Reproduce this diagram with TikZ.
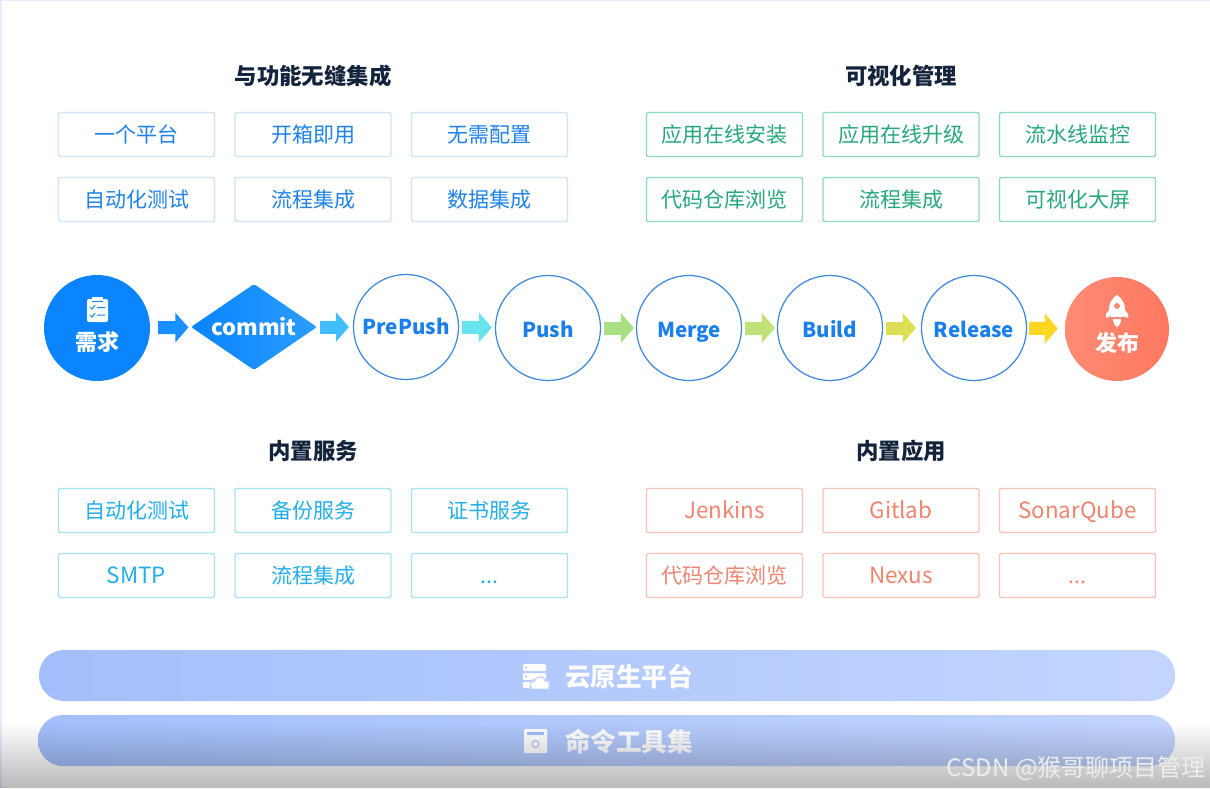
\documentclass[tikz,border=0pt]{standalone}
\usepackage{fontspec}
\setmainfont{Noto Sans CJK SC}
\usepackage{xcolor}
\usetikzlibrary{arrows.meta,positioning,shapes.geometric,fadings}

\definecolor{inkblue}{HTML}{1F82E8}
\definecolor{edgeblue}{HTML}{CFE4FA}
\definecolor{inkgreen}{HTML}{26A87A}
\definecolor{edgegreen}{HTML}{8FD8BC}
\definecolor{inkcyan}{HTML}{22ADEB}
\definecolor{edgecyan}{HTML}{A8E3F3}
\definecolor{inkcoral}{HTML}{EE8570}
\definecolor{edgecoral}{HTML}{F8C4B8}
\definecolor{stepblue}{HTML}{0A84FF}
\definecolor{stepright}{HTML}{2A9DFF}
\definecolor{ringblue}{HTML}{3A86DC}
\definecolor{stageink}{HTML}{1A7FEA}
\definecolor{headink}{HTML}{14233C}
\definecolor{barleft}{HTML}{A3BFFB}
\definecolor{barright}{HTML}{C3D5FF}
\definecolor{shipleft}{HTML}{FF8B75}
\definecolor{shipright}{HTML}{FF7860}
\definecolor{arone}{HTML}{1890FF}
\definecolor{artwo}{HTML}{40BEFF}
\definecolor{arthree}{HTML}{68E4EE}
\definecolor{arfour}{HTML}{A8E082}
\definecolor{arfive}{HTML}{BEE278}
\definecolor{arsix}{HTML}{DCDE55}
\definecolor{arseven}{HTML}{FFD723}

\begin{document}
\begin{tikzpicture}[
  x=1pt,y=-1pt,
  node distance=19.6pt and 19.1pt,
  box/.style={draw,line width=1.4pt,rounded corners=2pt,align=center,fill=white,
              minimum width=156pt,minimum height=44pt,inner sep=0pt,
              text height=18pt,text depth=3pt,
              font=\fontsize{21}{24}\selectfont},
  svc/.style={box,draw=edgeblue,text=inkblue},
  view/.style={box,draw=edgegreen,text=inkgreen},
  bult/.style={box,draw=edgecyan,text=inkcyan},
  app/.style={box,draw=edgecoral,text=inkcoral},
  wide/.style={font=\fontsize{22.4}{24}\selectfont},
  head/.style={text=headink,font=\fontsize{22.4}{24}\selectfont\bfseries,inner sep=0pt},
  stage/.style={circle,draw=ringblue,line width=1.2pt,fill=white,minimum size=105pt,inner sep=0pt,
                text height=18pt,text depth=0pt,
                text=stageink,font=\fontsize{20.5}{24}\selectfont\bfseries},
  ends/.style={circle,minimum size=106pt,inner sep=0pt},
  endlabel/.style={text=white,font=\fontsize{22}{24}\selectfont\bfseries,inner sep=0pt},
  bar/.style={rounded corners=25pt,minimum height=51pt,inner sep=0pt,
              left color=barleft,right color=barright},
  barlabel/.style={text=white,font=\fontsize{25.6}{28}\selectfont\bfseries,inner sep=0pt},
  ar/.style={line width=13pt,-{Triangle[length=13pt,width=29pt]},draw=#1}
]
\useasboundingbox (0,0) rectangle (1210,788);
\fill[white] (0,0) rectangle (1210,788);
\fill[blue!8] (0,0) rectangle (2,788);
\fill[blue!8] (0,0) rectangle (1210,1);

% top left
\node[head] (headfun) at (313,76) {与功能无缝集成};
\node[svc] (one) at (136.5,134.5) {一个平台};
\node[svc,right=of one] (open) {开箱即用};
\node[svc,right=of open] (noconf) {无需配置};
\node[svc,below=of one] (auto) {自动化测试};
\node[svc,right=of auto] (flow) {流程集成};
\node[svc,right=of flow] (data) {数据集成};

% top right
\node[head] (headview) at (901,76) {可视化管理};
\node[view] (install) at (724.5,134.5) {应用在线安装};
\node[view,right=of install] (upgrade) {应用在线升级};
\node[view,right=of upgrade] (monitor) {流水线监控};
\node[view,below=of install] (browse) {代码仓库浏览};
\node[view,right=of browse] (flowb) {流程集成};
\node[view,right=of flowb] (screen) {可视化大屏};

% pipeline
\node[ends,fill=stepblue] (need) at (97,328) {};
\node[endlabel] (needtxt) at (97,342) {需求};
\node[diamond,aspect=1.47,minimum width=126pt,minimum height=86pt,inner sep=0pt,rounded corners=2pt,
      left color=stepblue,right color=stepright,text=white,font=\fontsize{22}{24}\selectfont\bfseries]
      (commit) at (254,327) {commit};
\node[stage,text height=14pt] (prepush) at (406,327) {PrePush};
\node[stage] (push) at (548,328) {Push};
\node[stage] (merge) at (689,328) {Merge};
\node[stage] (build) at (830,328) {Build};
\node[stage] (release) at (974,328) {Release};
\node[ends,minimum size=104pt,left color=shipleft,right color=shipright] (ship) at (1117,329) {};
\node[endlabel] (shiptxt) at (1117,343) {发布};

\draw[ar=arone,shorten <=8pt,shorten >=3pt] (need) -- (commit);
\draw[ar=artwo,shorten <=3pt,shorten >=4pt] (commit) -- (prepush);
\draw[ar=arthree,shorten <=3pt,shorten >=3pt] (prepush) -- (push);
\draw[ar=arfour,shorten <=3pt,shorten >=2pt] (push) -- (merge);
\draw[ar=arfive,shorten <=3pt,shorten >=2pt] (merge) -- (build);
\draw[ar=arsix,shorten <=3pt,shorten >=5pt] (build) -- (release);
\draw[ar=arseven,shorten <=2pt,shorten >=7pt] (release) -- (ship);

% clipboard icon
\fill[white,rounded corners=2pt] (87,299) rectangle (108,322);
\fill[white] (92,297) rectangle (103,301);
\draw[stepblue,line width=1pt] (92,301.5) -- (103,301.5);
\draw[stepblue,line width=1pt] (90,307) -- (92,309) -- (95,305) (97,307.5) -- (105,307.5)
  (90,315) -- (92,317) -- (95,313) (97,315) -- (105,315);

% rocket icon
\fill[white] (1117,295) .. controls (1107,302) and (1108,312) .. (1111,317) -- (1123,317)
  .. controls (1126,312) and (1127,302) .. (1117,295) -- cycle;
\fill[white] (1111,308) -- (1106,314) -- (1106,318) -- (1111,316) -- cycle;
\fill[white] (1123,308) -- (1128,314) -- (1128,318) -- (1123,316) -- cycle;
\fill[white] (1113,319) -- (1121,319) .. controls (1121,323) and (1119,326) .. (1117,327)
  .. controls (1115,326) and (1113,323) .. (1113,319) -- cycle;
\fill[shipleft] (1117,306) circle (3pt);

% bottom left
\node[head] (headbuilt) at (313,451) {内置服务};
\node[bult] (autob) at (136.5,510.5) {自动化测试};
\node[bult,right=of autob] (backup) {备份服务};
\node[bult,right=of backup] (cert) {证书服务};
\node[bult,wide,below=of autob] (smtp) {SMTP};
\node[bult,right=of smtp] (flowc) {流程集成};
\node[bult,right=of flowc] (moreb) {.{}.{}.};

% bottom right
\node[head] (headapp) at (901,451) {内置应用};
\node[app,wide] (jenkins) at (724.5,510.5) {Jenkins};
\node[app,wide,right=of jenkins] (gitlab) {Gitlab};
\node[app,wide,right=of gitlab] (sonar) {SonarQube};
\node[app,below=of jenkins] (browsec) {代码仓库浏览};
\node[app,wide,right=of browsec] (nexus) {Nexus};
\node[app,right=of nexus] (morea) {.{}.{}.};

% bars
\node[bar,minimum width=1136pt] (cloud) at (607,675.5) {};
\node[barlabel] (cloudtxt) at (629,677) {云原生平台};
\node[bar,minimum width=1137pt] (tools) at (606.5,740.5) {};
\node[barlabel] (toolstxt) at (629,742) {命令工具集};

% server icon
\fill[white,rounded corners=1pt] (523,664) rectangle (546,671);
\fill[white,rounded corners=1pt] (523,673) rectangle (546,680);
\fill[white,rounded corners=1pt] (523,682) rectangle (532,688);
\fill[barleft] (526,667.5) circle (1pt) (526,676.5) circle (1pt);
\fill[barright] (529,689) -- (531,680) -- (541,676) -- (550,681) -- (550,689) -- cycle;
\fill[white] (534.5,685) circle (3.5pt) (540,682.5) circle (5pt) (545.5,685) circle (3.5pt)
  (532,685.5) rectangle (548,688.5);

% disk icon
\fill[white,rounded corners=1pt] (524,729) rectangle (547,753);
\fill[barleft] (527,732) rectangle (544,735);
\draw[barleft,line width=1pt] (535.5,744) circle (3.5pt);

% bottom band
\fill[black,opacity=0.28,path fading=north] (0,722) rectangle (1210,788);

\node[text=white!93!black,font=\fontsize{24}{26}\selectfont,inner sep=0pt,anchor=east] (mark) at (1206,768)
  {CSDN @猴哥聊项目管理};
\end{tikzpicture}
\end{document}
